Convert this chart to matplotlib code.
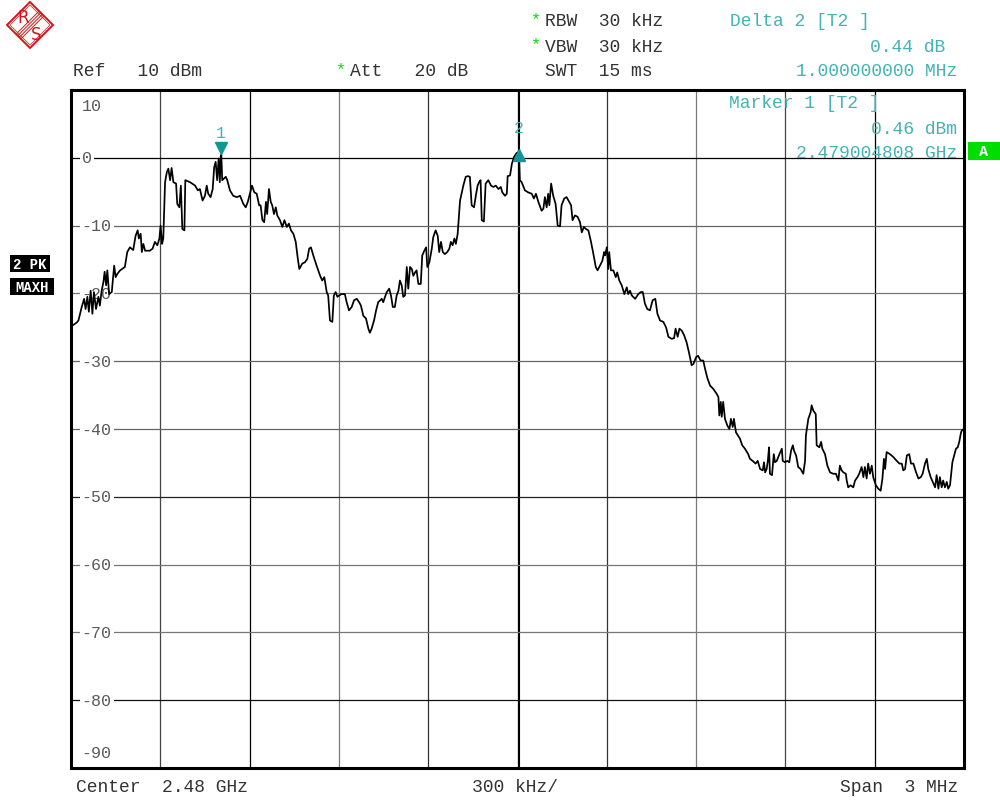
import matplotlib
matplotlib.use("Agg")
import matplotlib.pyplot as plt
from matplotlib.patches import Polygon, Rectangle
from matplotlib.transforms import offset_copy

# trace 2 (max hold), frequency offset from span start in kHz, level in dBm
freq_khz = [
    0, 6, 19, 25, 36, 44, 49, 55, 60, 66, 72, 77, 84, 92, 97, 103, 109, 113, 118, 122,
    128, 137, 145, 150, 156, 165, 181, 189, 198, 209, 217, 224, 228, 234, 238, 243, 249, 265, 274, 282,
    290, 297, 301, 306, 310, 316, 322, 327, 333, 338, 344, 353, 357, 364, 369, 374, 381, 384, 400, 417,
    426, 433, 442, 450, 456, 461, 469, 476, 481, 486, 491, 496, 500, 503, 505, 508, 520, 525, 534, 545,
    557, 568, 579, 587, 594, 601, 608, 616, 624, 632, 637, 643, 649, 655, 659, 665, 671, 676, 682, 688,
    693, 702, 710, 717, 725, 732, 739, 747, 755, 762, 767, 777, 786, 794, 800, 806, 814, 825, 837, 844,
    851, 859, 864, 870, 878, 883, 889, 895, 901, 909, 920, 926, 934, 943, 951, 960, 968, 974, 982, 991,
    999, 1004, 1010, 1018, 1025, 1032, 1044, 1049, 1055, 1061, 1069, 1075, 1081, 1088, 1094, 1100, 1105, 1111, 1116, 1122,
    1128, 1133, 1139, 1145, 1150, 1156, 1161, 1167, 1175, 1180, 1187, 1193, 1197, 1204, 1212, 1217, 1225, 1232, 1237, 1243,
    1249, 1256, 1264, 1271, 1276, 1282, 1288, 1293, 1299, 1303, 1307, 1313, 1318, 1326, 1333, 1340, 1346, 1354, 1360, 1366,
    1371, 1376, 1380, 1387, 1393, 1402, 1411, 1419, 1427, 1436, 1444, 1449, 1458, 1464, 1467, 1475, 1481, 1488, 1497, 1505,
    1508, 1514, 1525, 1536, 1548, 1555, 1562, 1570, 1581, 1587, 1592, 1598, 1603, 1607, 1613, 1620, 1628, 1635, 1643, 1648,
    1657, 1665, 1674, 1680, 1685, 1693, 1702, 1710, 1716, 1723, 1730, 1738, 1747, 1755, 1763, 1769, 1777, 1785, 1791, 1794,
    1800, 1805, 1808, 1814, 1822, 1830, 1835, 1842, 1850, 1859, 1867, 1872, 1878, 1884, 1895, 1906, 1914, 1921, 1928, 1936,
    1945, 1954, 1963, 1970, 1979, 1990, 1999, 2007, 2018, 2026, 2031, 2038, 2044, 2052, 2060, 2068, 2076, 2085, 2091, 2100,
    2107, 2115, 2124, 2130, 2138, 2147, 2158, 2169, 2175, 2178, 2183, 2186, 2191, 2197, 2205, 2212, 2217, 2223, 2227, 2234,
    2247, 2255, 2264, 2275, 2281, 2290, 2300, 2307, 2315, 2324, 2328, 2332, 2337, 2341, 2345, 2348, 2355, 2361, 2365, 2371,
    2380, 2388, 2391, 2399, 2406, 2413, 2419, 2425, 2429, 2436, 2443, 2451, 2460, 2466, 2469, 2477, 2485, 2488, 2494, 2502,
    2505, 2514, 2520, 2524, 2533, 2541, 2550, 2561, 2570, 2578, 2583, 2589, 2595, 2603, 2606, 2611, 2619, 2628, 2634, 2642,
    2648, 2656, 2662, 2667, 2673, 2678, 2684, 2690, 2695, 2704, 2712, 2720, 2726, 2731, 2735, 2740, 2751, 2762, 2774, 2783,
    2791, 2796, 2802, 2808, 2816, 2822, 2830, 2839, 2847, 2855, 2861, 2869, 2875, 2880, 2888, 2895, 2903, 2908, 2914, 2919,
    2925, 2930, 2936, 2942, 2947, 2953, 2961, 2967, 2973, 2979, 2984, 2990, 2993, 3000,
]
level_dbm = [
    -24.9, -24.7, -24.3, -24.0, -22.0, -20.8, -22.3, -20.5, -22.7, -19.6, -23.0, -19.8, -22.3, -20.5, -21.8, -19.6, -18.3, -16.8, -18.8, -16.6,
    -20.1, -19.8, -15.9, -17.6, -17.1, -16.6, -16.1, -13.9, -13.2, -13.6, -11.5, -10.7, -11.9, -11.2, -13.9, -12.7, -13.7, -13.7, -13.4, -12.4,
    -12.9, -11.9, -10.0, -12.7, -11.9, -3.6, -2.1, -1.6, -3.3, -1.5, -3.6, -3.8, -6.8, -7.3, -4.1, -10.5, -10.7, -3.3, -3.6, -4.1,
    -4.8, -4.6, -6.3, -5.6, -4.1, -5.3, -5.8, -4.6, -1.4, -0.6, -3.3, -0.1, -3.6, 0.2, 0.46, -3.3, -2.8, -3.3, -4.8, -5.6,
    -5.8, -5.6, -6.8, -7.3, -6.5, -5.3, -4.1, -5.1, -5.3, -7.0, -7.0, -9.2, -9.5, -6.5, -8.3, -4.6, -6.5, -7.0, -8.3, -7.3,
    -8.5, -9.2, -10.2, -9.2, -10.2, -9.7, -10.7, -11.2, -12.4, -14.9, -16.4, -15.6, -15.4, -14.9, -13.4, -13.2, -14.4, -15.9, -17.4, -18.1,
    -17.6, -19.8, -20.3, -24.0, -24.2, -20.3, -19.8, -20.5, -20.3, -20.1, -20.1, -21.3, -22.5, -22.0, -21.0, -20.8, -21.3, -21.8, -23.3, -23.7,
    -25.2, -25.8, -25.2, -24.0, -22.5, -21.3, -20.8, -21.3, -20.5, -19.8, -19.3, -20.3, -22.0, -22.0, -20.3, -19.6, -18.1, -18.8, -20.5, -20.3,
    -16.1, -19.3, -16.1, -16.4, -17.4, -16.9, -16.6, -18.6, -18.6, -14.4, -13.7, -13.2, -16.1, -15.4, -13.4, -11.7, -10.7, -11.5, -13.9, -12.4,
    -13.9, -14.2, -13.9, -13.4, -12.4, -12.9, -11.9, -12.7, -11.2, -8.7, -6.3, -5.1, -4.1, -2.8, -2.7, -2.8, -7.0, -7.3, -5.6, -4.1,
    -3.6, -3.3, -9.2, -9.4, -3.8, -3.3, -4.1, -4.3, -4.1, -4.6, -4.3, -5.1, -5.6, -5.3, -2.7, -2.6, -0.9, 0.1, 0.7, 0.9,
    -3.3, -3.6, -4.8, -5.1, -5.3, -6.0, -5.3, -6.5, -7.8, -7.5, -5.8, -7.3, -5.3, -7.0, -3.8, -5.6, -6.8, -10.0, -10.1, -7.0,
    -6.0, -5.8, -6.5, -7.0, -9.2, -8.5, -8.7, -9.5, -11.0, -10.2, -10.5, -10.7, -12.4, -14.2, -16.1, -16.6, -15.9, -15.2, -13.9, -14.4,
    -13.2, -16.4, -13.9, -16.6, -16.6, -17.6, -16.9, -18.1, -18.8, -20.1, -19.1, -20.1, -19.6, -20.3, -20.8, -20.1, -19.8, -19.8, -21.5, -22.3,
    -22.5, -21.0, -20.8, -23.0, -24.0, -24.2, -25.0, -26.4, -26.7, -26.6, -25.2, -26.4, -25.2, -25.5, -26.2, -27.2, -28.7, -30.6, -30.4, -29.4,
    -29.2, -29.9, -29.9, -31.1, -32.5, -33.6, -34.1, -34.8, -35.3, -38.0, -36.0, -38.2, -36.0, -38.5, -39.5, -40.0, -38.5, -39.7, -38.5, -40.5,
    -41.4, -42.4, -42.9, -43.7, -44.4, -44.7, -45.1, -44.7, -45.9, -46.1, -44.9, -46.4, -45.9, -44.7, -42.7, -46.6, -46.8, -43.7, -44.9, -44.7,
    -43.7, -42.9, -44.7, -44.9, -44.7, -44.9, -43.2, -42.4, -43.2, -43.9, -45.6, -45.9, -46.6, -44.7, -40.9, -38.5, -37.5, -36.5, -37.3, -37.8,
    -42.4, -42.7, -41.9, -42.9, -43.7, -45.4, -46.4, -46.6, -46.6, -47.6, -45.4, -46.1, -46.4, -46.6, -47.6, -48.6, -48.3, -48.6, -47.6, -47.1,
    -46.6, -45.6, -47.1, -45.6, -47.3, -45.1, -46.6, -45.4, -47.1, -48.3, -48.8, -49.1, -47.3, -44.4, -45.9, -43.4, -43.7, -44.1, -44.7, -45.1,
    -45.1, -46.1, -45.9, -43.9, -43.7, -45.1, -45.1, -46.4, -47.3, -47.1, -46.6, -45.1, -44.4, -45.9, -47.1, -47.8, -48.6, -46.8, -48.8, -47.1,
    -48.6, -47.6, -48.6, -47.8, -48.8, -48.3, -44.9, -43.9, -42.9, -42.7, -41.9, -40.5, -40.2, -40.0,
]

span_khz = 3000
div_khz = 300
ref_dbm = 10
range_db = 100
m1_khz = 504.808       # 2.479004808 GHz
m1_dbm = 0.46
d2_khz = 1000.0        # delta 2
d2_db = 0.44
y_labels = [10, 0, -10, -20, -30, -40, -50, -60, -70, -80, -90]

TEAL = "#45b3b3"
MTEAL = "#139595"
GREEN = "#00dd00"
RED = "#cc1818"
MONO = ["Liberation Mono", "DejaVu Sans Mono"]

fig = plt.figure(figsize=(10, 8.04), dpi=100)
ax = fig.add_axes([0.071, 0.0435, 0.893, 0.8433])
ax.set_xlim(0, span_khz)
ax.set_ylim(ref_dbm - range_db, ref_dbm)
ax.set_xticks([])
ax.set_yticks([])
for s in ax.spines.values():
    s.set_linewidth(2.2)
    s.set_color("black")

# grid (the analyser draws some lines darker than others)
vcols = ["#444444", "#000000", "#7a7a7a", "#333333", "#000000",
         "#333333", "#7a7a7a", "#444444", "#000000"]
for i, c in enumerate(vcols, start=1):
    ax.axvline(i * div_khz, color=c, lw=0.9, zorder=1)
ax.axvline(1500 + 5, color="black", lw=0.8, zorder=1)
hcols = {0: "#000000", -10: "#666666", -20: "#777777", -30: "#666666", -40: "#666666",
         -50: "#222222", -60: "#777777", -70: "#777777", -80: "#111111"}
for v, c in hcols.items():
    ax.axhline(v, color=c, lw=0.9, zorder=1)

# level labels drawn inside the grid
for v in y_labels:
    dy = 0
    if v == ref_dbm:
        dy = -15
    elif v == ref_dbm - range_db:
        dy = 16
    ax.annotate(f"{v}", xy=(0.012, v), xycoords=("axes fraction", "data"),
                xytext=(0, dy), textcoords="offset pixels",
                ha="left", va="center", fontsize=12, color="#5a5a5a",
                family=MONO, zorder=2,
                bbox=dict(boxstyle="square,pad=0.12", fc="white", ec="none"))

# trace
ax.plot(freq_khz, level_dbm, color="black", lw=1.25, zorder=5)

# markers
up = offset_copy(ax.transData, fig=fig, x=0, y=7, units="dots")
dn = offset_copy(ax.transData, fig=fig, x=0, y=-3, units="dots")
ax.plot([m1_khz], [m1_dbm], marker="v", ms=8, color=MTEAL, transform=up, zorder=6, clip_on=False)
ax.annotate("1", xy=(m1_khz, m1_dbm), xytext=(0, 22), textcoords="offset pixels",
            ha="center", va="center", color=TEAL, fontsize=12, family=MONO)
m2_khz = m1_khz + d2_khz
m2_dbm = m1_dbm + d2_db
ax.plot([m2_khz], [m2_dbm], marker="^", ms=8, color=MTEAL, transform=dn, zorder=6, clip_on=False)
ax.annotate("2", xy=(m2_khz, m2_dbm), xytext=(0, 24), textcoords="offset pixels",
            ha="center", va="center", color=TEAL, fontsize=12, family=MONO)

# overlay in pixel units for header / footer text and logo
ov = fig.add_axes([0, 0, 1, 1])
ov.set_xlim(0, 1000)
ov.set_ylim(804, 0)
ov.axis("off")
ov.patch.set_alpha(0)
ov.set_zorder(3)


def txt(x, y, s, color="#333333", ha="left", size=13, **kw):
    ov.text(x, y, s, ha=ha, va="center", color=color, fontsize=size, family=MONO, **kw)


txt(73, 72, "Ref   10 dBm")
txt(336, 70, "*", color=GREEN, size=12)
txt(350, 72, "Att   20 dB")
txt(531, 20, "*", color=GREEN, size=12)
txt(545, 22, "RBW  30 kHz")
txt(531, 45, "*", color=GREEN, size=12)
txt(545, 47, "VBW  30 kHz")
txt(545, 72, "SWT  15 ms")
txt(730, 22, "Delta 2 [T2 ]", color=TEAL)
txt(945, 47, f"{d2_db:.2f} dB", color=TEAL, ha="right")
txt(957, 72, f"{d2_khz / 1000:.9f} MHz", color=TEAL, ha="right")
txt(729, 104, "Marker 1 [T2 ]", color=TEAL)
txt(957, 129, f"{m1_dbm:.2f} dBm", color=TEAL, ha="right")
txt(957, 153, f"{2.4785 + m1_khz / 1e6:.9f} GHz", color=TEAL, ha="right")
txt(76, 788, "Center  2.48 GHz")
txt(472, 788, f"{div_khz} kHz/")
txt(958, 788, "Span  3 MHz", ha="right")

# status boxes
ov.add_patch(Rectangle((968, 143), 32, 18, fc=GREEN, ec="none"))
txt(984, 152, "A", color="white", ha="center", size=11, fontweight="bold")
ov.add_patch(Rectangle((10, 256), 40, 17, fc="black", ec="none"))
txt(30, 265, "2 PK", color="white", ha="center", size=10, fontweight="bold")
ov.add_patch(Rectangle((10, 279), 44, 17, fc="black", ec="none"))
txt(32, 288, "MAXH", color="white", ha="center", size=10, fontweight="bold")

# R&S logo
ov.add_patch(Polygon([(7, 26), (30, 3), (53, 26), (30, 49)], closed=True,
                     fill=False, ec=RED, lw=1.4))
ov.add_patch(Polygon([(10, 26), (30, 6), (50, 26), (30, 46)], closed=True,
                     fill=False, ec=RED, lw=0.5))
for d in (-2.4, -0.8, 0.8, 2.4):
    ov.plot([41.5 + d, 18.5 + d], [14.5 + d, 37.5 + d], color=RED, lw=0.7)
ov.text(23, 18, "R", color=RED, fontsize=12, ha="center", va="center")
ov.text(36, 35, "S", color=RED, fontsize=12, ha="center", va="center")

fig.savefig("out.png", dpi=100)
